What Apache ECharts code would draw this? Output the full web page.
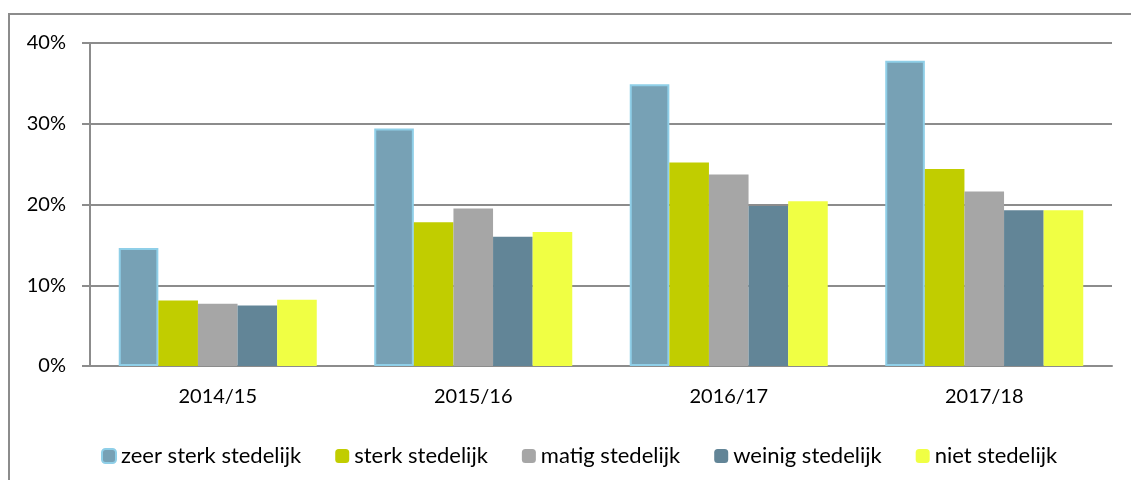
<!DOCTYPE html>
<html>
<head>
<meta charset="utf-8">
<script src="https://cdn.jsdelivr.net/npm/echarts@6/dist/echarts.min.js"></script>
<style>
  html, body { margin: 0; padding: 0; background: #fff; }
  #frame { position: absolute; left: 8px; top: 13px; width: 1200px; height: 500px;
           border-top: 2px solid #8c8c8c; border-left: 2px solid #8c8c8c; }
  #chart { position: absolute; left: 0; top: 0; width: 1131px; height: 480px; }
</style>
</head>
<body>
<div id="frame"></div>
<div id="chart"></div>
<script>
// schooljaren
var jaren = ["2014/15", "2015/16", "2016/17", "2017/18"];
// mate van stedelijkheid
var reeksen = ["zeer sterk stedelijk", "sterk stedelijk", "matig stedelijk", "weinig stedelijk", "niet stedelijk"];
// percentages per reeks
var zeerSterk = [14.6, 29.4, 34.9, 37.8];
var sterk     = [8.1, 17.8, 25.2, 24.4];
var matig     = [7.7, 19.5, 23.7, 21.6];
var weinig    = [7.5, 16.0, 19.8, 19.3];
var niet      = [8.2, 16.6, 20.4, 19.3];
var kleuren = ["#77a1b5", "#c1cd00", "#a6a6a6", "#628597", "#f0ff44"];

var chart = echarts.init(document.getElementById("chart"));
var lettertype = "Lato";

function reeks(naam, data, i) {
	var s = {
		name: naam,
		type: "bar",
		data: data,
		barGap: "0%",
		barCategoryGap: "22.5%",
		itemStyle: { color: kleuren[i] }
	};
	if (i === 0) {
		s.itemStyle.borderColor = "#8fcfe8";
		s.itemStyle.borderWidth = 2;
	}
	return s;
}

var option = {
	backgroundColor: "transparent",
	animation: false,
	grid: { left: 90, right: 19, top: 43, bottom: 114 },
	legend: {
		data: reeks,
		left: 96,
		top: 440,
		itemWidth: 14,
		itemHeight: 14,
		itemGap: 34,
		textStyle: { fontFamily: lettertype, fontSize: 22, color: "#000" }
	},
	xAxis: {
		type: "category",
		data: jaren,
		axisLine: { lineStyle: { color: "#8c8c8c", width: 2 } },
		axisTick: { length: 7, lineStyle: { color: "#8c8c8c", width: 2 } },
		axisLabel: { margin: 21, fontFamily: lettertype, fontSize: 20, color: "#000" }
	},
	yAxis: {
		type: "value",
		min: 0,
		max: 40,
		interval: 10,
		axisLine: { show: true, lineStyle: { color: "#8c8c8c", width: 2 } },
		axisTick: { show: true, length: 8, lineStyle: { color: "#8c8c8c", width: 2 } },
		splitLine: { lineStyle: { color: "#8c8c8c", width: 2 } },
		axisLabel: { formatter: "{value}%", margin: 24, fontFamily: lettertype, fontSize: 20, color: "#000" }
	},
	series: [
		reeks(reeksen[0], zeerSterk, 0),
		reeks(reeksen[1], sterk, 1),
		reeks(reeksen[2], matig, 2),
		reeks(reeksen[3], weinig, 3),
		reeks(reeksen[4], niet, 4)
	]
};
option.legend.data = reeksen;

chart.setOption(option);
</script>
</body>
</html>
